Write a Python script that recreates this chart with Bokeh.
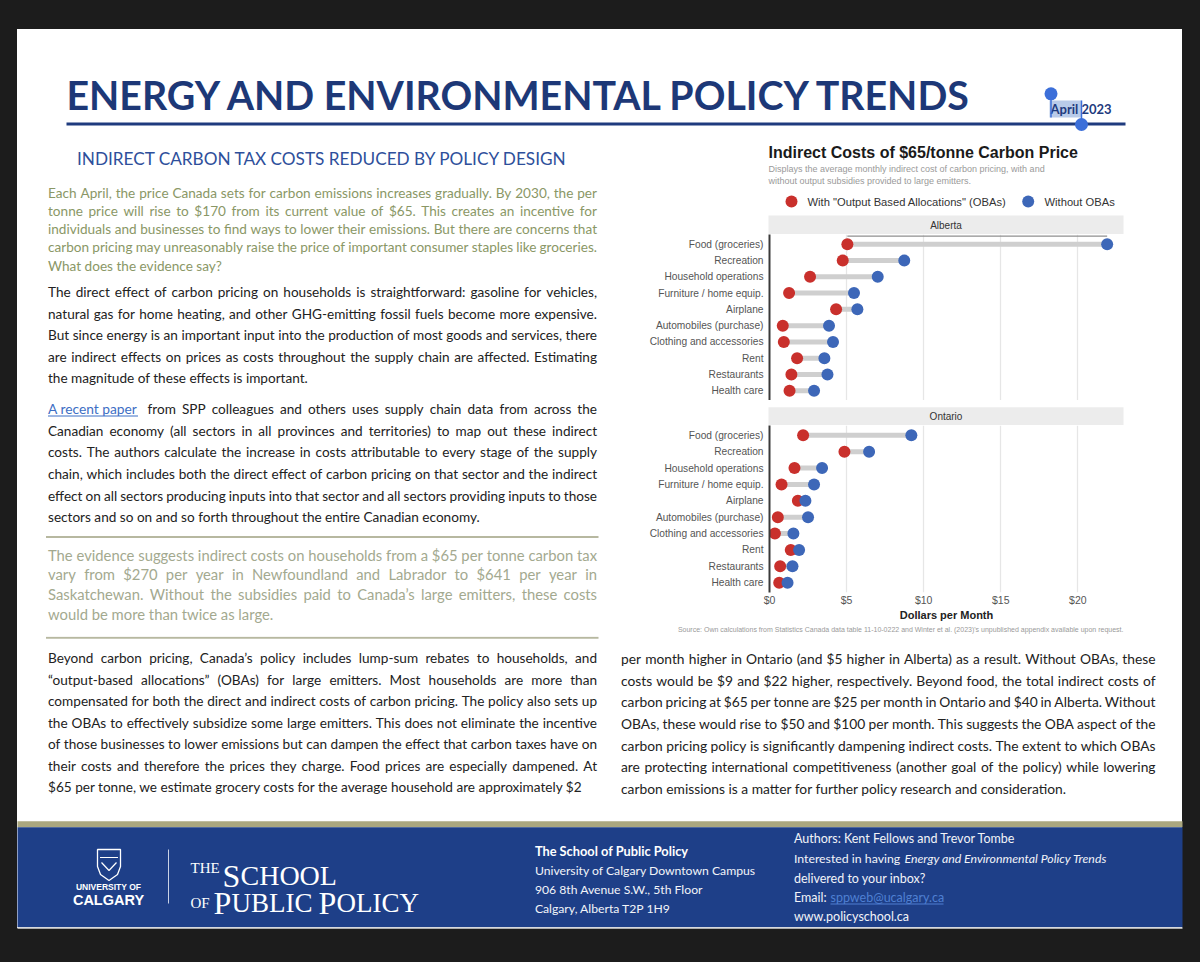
from bokeh.plotting import figure
from bokeh.models import Range1d, FactorRange, FixedTicker, ColumnDataSource, CustomJS
from bokeh.layouts import column, row
from bokeh.document import Document
from bokeh.embed import file_html
from bokeh.resources import INLINE
from bokeh.core.properties import value

# ---------------- data ----------------
categories = ["Food (groceries)", "Recreation", "Household operations",
              "Furniture / home equip.", "Airplane", "Automobiles (purchase)",
              "Clothing and accessories", "Rent", "Restaurants", "Health care"]
alberta_with_oba = [5.05, 4.75, 2.63, 1.27, 4.32, 0.86, 0.93, 1.79, 1.42, 1.30]
alberta_without_oba = [21.9, 8.74, 7.02, 5.48, 5.70, 3.86, 4.12, 3.56, 3.76, 2.89]
ontario_with_oba = [2.18, 4.86, 1.62, 0.78, 1.84, 0.54, 0.35, 1.38, 0.69, 0.63]
ontario_without_oba = [9.20, 6.46, 3.41, 2.89, 2.33, 2.50, 1.55, 1.92, 1.49, 1.17]
tick_values = [0, 5, 10, 15, 20]
tick_labels = ["$0", "$5", "$10", "$15", "$20"]
x_max = 22.96

BODY = "Lato"
CHART = "Liberation Sans"
DARK = "#1c1c1c"
RED = "#c9302c"
BLUE = "#3d67b8"

just_sources = []
just_cfgs = []


def noalign(p):
    try:
        p.frame_align = False
    except Exception:
        pass


def canvas(x0, x1, y0, y1):
    # transparent canvas: the page (white sheet on dark) is the layout's background
    p = figure(width=x1 - x0, height=y1 - y0, x_range=Range1d(x0, x1),
               y_range=Range1d(y1, y0), output_backend="svg",
               toolbar_location=None, tools="", min_border=0,
               x_axis_location=None, y_axis_location=None)
    p.grid.visible = False
    p.outline_line_color = None
    p.background_fill_color = None
    p.border_fill_color = None
    noalign(p)
    return p


def txt(p, x, y, s, size, color, font=BODY, style="normal", align="left",
        baseline="middle"):
    p.text(x=[x], y=[y], text=[s], text_font=value(font),
           text_font_size=value(f"{size}px"), text_color=color,
           text_font_style=value(style), text_align=value(align),
           text_baseline=value(baseline))


def block(p, lines, x, y0, dy, size, color, font=BODY, justify_to=None, n_just=0):
    n = len(lines)
    src = ColumnDataSource(dict(x=[x] * n, y=[y0 + i * dy for i in range(n)],
                                text=list(lines)))
    p.text(x="x", y="y", text="text", source=src,
           text_font=value(font), text_font_size=value(f"{size}px"),
           text_color=color, text_baseline=value("middle"),
           text_align=value("left"))
    if justify_to is not None:
        just_sources.append(src)
        just_cfgs.append(dict(font=f"{size}px {font}", x1=justify_to,
                              justify=[i < n_just for i in range(n)]))


def box(p, l, r, t, b, color):
    p.quad(left=[l], right=[r], top=[t], bottom=[b], fill_color=color,
           line_color=None)


# ---------------- top header ----------------
top = canvas(0, 1200, 0, 140)
txt(top, 66, 93.5, "ENERGY AND ENVIRONMENTAL POLICY TRENDS", 39.3, "#1d3877",
    style="bold")
top.line(x=[66, 1125], y=[123.5, 123.5], line_color="#1f3b7e", line_width=3)
box(top, 1049, 1081, 100, 117, "#b9cbe9")
txt(top, 1050, 108.5, "April 2023", 13, "#1f3b7e", style="bold")
top.line(x=[1050.5, 1050.5], y=[96, 117], line_color="#3c6fd9", line_width=1.5)
top.line(x=[1081, 1081], y=[100, 122], line_color="#3c6fd9", line_width=1.5)
top.scatter(x=[1050.5, 1081], y=[93.3, 124], size=13, fill_color="#3c6fd9",
            line_color=None)

# ---------------- left text column ----------------
left = canvas(0, 640, 140, 636)
txt(left, 322, 158.3, "INDIRECT CARBON TAX COSTS REDUCED BY POLICY DESIGN", 17.2,
    "#2e4f9b", align="center")

green_lines = [
    "Each April, the price Canada sets for carbon emissions increases gradually. By 2030, the per",
    "tonne price will rise to $170 from its current value of $65. This creates an incentive for",
    "individuals and businesses to find ways to lower their emissions. But there are concerns that",
    "carbon pricing may unreasonably raise the price of important consumer staples like groceries.",
    "What does the evidence say?",
]
block(left, green_lines, 47.5, 192.7, 18.08, 13.6, "#8a9766", justify_to=596.5, n_just=4)

black1 = [
    "The direct effect of carbon pricing on households is straightforward: gasoline for vehicles,",
    "natural gas for home heating, and other GHG-emitting fossil fuels become more expensive.",
    "But since energy is an important input into the production of most goods and services, there",
    "are indirect effects on prices as costs throughout the supply chain are affected. Estimating",
    "the magnitude of these effects is important.",
]
block(left, black1, 47.5, 291.7, 21.5, 13.6, "#222222", justify_to=596.5, n_just=4)

txt(left, 47.5, 408.3, "A recent paper", 13.8, "#3d6ec4")
left.line(x=[47.5, 137.5], y=[415.5, 415.5], line_color="#3d6ec4", line_width=1)
block(left, ["from SPP colleagues and others uses supply chain data from across the"],
      147, 408.3, 0, 13.6, "#222222", justify_to=596.5, n_just=1)
black2 = [
    "Canadian economy (all sectors in all provinces and territories) to map out these indirect",
    "costs. The authors calculate the increase in costs attributable to every stage of the supply",
    "chain, which includes both the direct effect of carbon pricing on that sector and the indirect",
    "effect on all sectors producing inputs into that sector and all sectors providing inputs to those",
    "sectors and so on and so forth throughout the entire Canadian economy.",
]
block(left, black2, 47.5, 430.0, 21.68, 13.6, "#222222", justify_to=596.5, n_just=4)

left.line(x=[45.5, 598], y=[536.5, 536.5], line_color="#b7b8a0", line_width=2)
quote = [
    "The evidence suggests indirect costs on households from a $65 per tonne carbon tax",
    "vary from $270 per year in Newfoundland and Labrador to $641 per year in",
    "Saskatchewan. Without the subsidies paid to Canada\u2019s large emitters, these costs",
    "would be more than twice as large.",
]
block(left, quote, 47.5, 554.0, 19.77, 14.8, "#a3a98f", justify_to=596.5, n_just=3)

# ---------------- chart column ----------------
CW0, CW1 = 640, 1182
head = canvas(CW0, CW1, 140, 234)
txt(head, 768, 151.5, "Indirect Costs of $65/tonne Carbon Price", 16, "#1a1a1a",
    font=CHART, style="bold")
txt(head, 768, 168.7, "Displays the average monthly indirect cost of carbon pricing, with and",
    9, "#9a9a9a", font=CHART)
txt(head, 768, 180.0, "without output subsidies provided to large emitters.", 9, "#9a9a9a",
    font=CHART)
head.scatter(x=[791], y=[201], size=12, fill_color=RED, line_color=None)
txt(head, 807, 201, "With \"Output Based Allocations\" (OBAs)", 11.2, "#333333", font=CHART)
head.scatter(x=[1027.7], y=[201], size=12, fill_color=BLUE, line_color=None)
txt(head, 1044, 201, "Without OBAs", 11.2, "#333333", font=CHART)
box(head, 768, 1123, 215, 240, "#ececec")
txt(head, 945.5, 224.8, "Alberta", 10, "#333333", font=CHART, align="center")

xr = Range1d(0, x_max)


def panel(height, with_vals, without_vals, show_x, extra=None):
    p = figure(width=CW1 - CW0, height=height, x_range=xr,
               y_range=FactorRange(factors=categories[::-1], range_padding=0.02),
               output_backend="svg", toolbar_location=None, tools="",
               min_border=0, min_border_left=129, min_border_right=59,
               min_border_top=0, min_border_bottom=32 if show_x else 0,
               x_axis_location="below" if show_x else None)
    noalign(p)
    p.outline_line_color = None
    p.background_fill_color = None
    p.border_fill_color = None
    p.ygrid.grid_line_color = None
    p.xgrid.ticker = FixedTicker(ticks=tick_values)
    p.xgrid.grid_line_color = "#e6e6e6"
    p.xgrid.grid_line_width = 1.3
    ya = p.yaxis[0]
    ya.axis_line_color = "#3a3a3a"
    ya.axis_line_width = 2
    ya.major_tick_line_color = None
    ya.major_tick_out = 0
    ya.major_tick_in = 0
    ya.major_label_standoff = 6
    ya.major_label_text_font = CHART
    ya.major_label_text_font_size = "10.2px"
    ya.major_label_text_color = "#555555"
    if show_x:
        xa = p.xaxis[0]
        xa.ticker = FixedTicker(ticks=tick_values)
        xa.major_label_overrides = {v: l for v, l in zip(tick_values, tick_labels)}
        xa.axis_line_color = None
        xa.major_tick_line_color = None
        xa.minor_tick_line_color = None
        xa.major_tick_out = 0
        xa.major_tick_in = 0
        xa.minor_tick_out = 0
        xa.minor_tick_in = 0
        xa.major_label_standoff = 1
        xa.major_label_text_font = CHART
        xa.major_label_text_font_size = "10.5px"
        xa.major_label_text_color = "#555555"
        xa.axis_label = "Dollars per Month"
        xa.axis_label_text_font = CHART
        xa.axis_label_text_font_style = "bold"
        xa.axis_label_text_font_size = "11px"
        xa.axis_label_text_color = "#222222"
        xa.axis_label_standoff = 0
    src = ColumnDataSource(dict(cat=categories, w=with_vals, wo=without_vals))
    if extra is not None:
        p.segment(x0="x0", y0="y", x1="x1", y1="y", source=extra,
                  line_color="#8f8f8f", line_width=1.3)
    p.segment(x0="w", y0="cat", x1="wo", y1="cat", source=src,
              line_color="#cfcfcf", line_width=5)
    p.scatter(x="w", y="cat", source=src, size=12, fill_color=RED, line_color=None)
    p.scatter(x="wo", y="cat", source=src, size=12, fill_color=BLUE, line_color=None)
    return p


ab_extra = ColumnDataSource(dict(x0=[alberta_with_oba[0]], x1=[alberta_without_oba[0]],
                                 y=[(categories[0], 0.5)]))
ab = panel(166, alberta_with_oba, alberta_without_oba, False, extra=ab_extra)

mid = canvas(CW0, CW1, 400, 425)
box(mid, 768, 1123, 406.7, 430, "#ececec")
txt(mid, 945.5, 416.2, "Ontario", 10, "#333333", font=CHART, align="center")

on = panel(199, ontario_with_oba, ontario_without_oba, True)

foot = canvas(CW0, CW1, 624, 636)
txt(foot, 1123, 628.5, "Source: Own calculations from Statistics Canada data table 11-10-0222 "
    "and Winter et al. (2023)'s unpublished appendix available upon request.",
    7, "#9a9a9a", font=CHART, align="right")

chart_col = column(head, ab, mid, on, foot, spacing=0)
right_edge = canvas(1182, 1200, 140, 636)

# ---------------- bottom ----------------
bottom = canvas(0, 1200, 636, 962)
box(bottom, 17, 1182, 820.7, 826.7, "#aaa77f")
box(bottom, 17, 1182, 826.7, 926.7, "#1e3f88")
box(bottom, 17, 1182, 926.7, 928.3, "#dddddd")
bottom.line(x=[45.5, 598], y=[637.2, 637.2], line_color="#b7b8a0", line_width=2)

bl = [
    "Beyond carbon pricing, Canada\u2019s policy includes lump-sum rebates to households, and",
    "\u201coutput-based allocations\u201d (OBAs) for large emitters. Most households are more than",
    "compensated for both the direct and indirect costs of carbon pricing. The policy also sets up",
    "the OBAs to effectively subsidize some large emitters. This does not eliminate the incentive",
    "of those businesses to lower emissions but can dampen the effect that carbon taxes have on",
    "their costs and therefore the prices they charge. Food prices are especially dampened. At",
    "$65 per tonne, we estimate grocery costs for the average household are approximately $2",
]
block(bottom, bl, 47.5, 657.7, 21.5, 13.6, "#222222", justify_to=596.5, n_just=6)
br = [
    "per month higher in Ontario (and $5 higher in Alberta) as a result. Without OBAs, these",
    "costs would be $9 and $22 higher, respectively. Beyond food, the total indirect costs of",
    "carbon pricing at $65 per tonne are $25 per month in Ontario and $40 in Alberta. Without",
    "OBAs, these would rise to $50 and $100 per month. This suggests the OBA aspect of the",
    "carbon pricing policy is significantly dampening indirect costs.  The extent to which OBAs",
    "are protecting international competitiveness (another goal of the policy) while lowering",
    "carbon emissions is a matter for further policy research and consideration.",
]
block(bottom, br, 620.5, 658.3, 21.57, 13.8, "#222222", justify_to=1155, n_just=6)

# footer logo
bottom.patch(x=[97, 120, 120, 117, 108.5, 100, 97],
             y=[849, 849, 866, 874, 880, 874, 866],
             fill_color=None, line_color="white", line_width=1.3)
bottom.line(x=[99.5, 117.5], y=[857, 857], line_color="white", line_width=1)
bottom.line(x=[101, 108.5, 116], y=[862, 870, 862], line_color="white", line_width=1.2)
txt(bottom, 108, 886, "UNIVERSITY OF", 8.5, "white", font=CHART, style="bold", align="center")
txt(bottom, 108, 899, "CALGARY", 14.5, "white", font=CHART, style="bold", align="center")
bottom.line(x=[168, 168], y=[849, 903], line_color="#c9d2e6", line_width=1)
SERIF = "Liberation Serif"
txt(bottom, 190, 867, "THE", 15, "white", font=SERIF, baseline="alphabetic")
txt(bottom, 222, 875, "S", 32, "white", font=SERIF, baseline="alphabetic")
txt(bottom, 240, 875, "CHOOL", 28, "white", font=SERIF, baseline="alphabetic")
txt(bottom, 190, 902, "OF", 15, "white", font=SERIF, baseline="alphabetic")
txt(bottom, 213, 902, "P", 32, "white", font=SERIF, baseline="alphabetic")
txt(bottom, 231, 902, "UBLIC", 27, "white", font=SERIF, baseline="alphabetic")
txt(bottom, 318, 902, "P", 32, "white", font=SERIF, baseline="alphabetic")
txt(bottom, 336, 902, "OLICY", 27, "white", font=SERIF, baseline="alphabetic")

# footer address
txt(bottom, 534.4, 850, "The School of Public Policy", 12.8, "white", style="bold")
block(bottom, ["University of Calgary Downtown Campus", "906 8th Avenue S.W., 5th Floor",
               "Calgary, Alberta  T2P 1H9"], 534.4, 870, 19, 12.2, "#f2f4f8")

# footer authors
txt(bottom, 793.4, 838.3, "Authors: Kent Fellows and Trevor Tombe", 12.5, "#f2f4f8")
txt(bottom, 793.4, 857.7, "Interested in having", 12.3, "#f2f4f8")
txt(bottom, 904, 857.7, "Energy and Environmental Policy Trends", 12.3, "#f2f4f8",
    style="italic")
txt(bottom, 793.4, 877.7, "delivered to your inbox?", 12.5, "#f2f4f8")
txt(bottom, 793.4, 896.7, "Email:", 12.5, "#f2f4f8")
txt(bottom, 830, 896.7, "sppweb@ucalgary.ca", 12.5, "#4f7fd2")
bottom.line(x=[830, 943], y=[903.5, 903.5], line_color="#4f7fd2", line_width=1)
txt(bottom, 793.4, 916, "www.policyschool.ca", 12.5, "#f2f4f8")

middle = row(left, chart_col, right_edge, spacing=0)
# the sheet: white page (x 17..1182, y 29..928) on a dark surround
bg_css = ("linear-gradient(to bottom, #1c1c1c 0px, #1c1c1c 29px, rgba(0,0,0,0) 29px, "
          "rgba(0,0,0,0) 928px, #1c1c1c 928px, #1c1c1c 100%), "
          "linear-gradient(to right, #1c1c1c 0px, #1c1c1c 17px, #ffffff 17px, "
          "#ffffff 1182px, #1c1c1c 1182px, #1c1c1c 100%)")
page = column(top, middle, bottom, spacing=0, styles={"background": bg_css})

# justify paragraph lines (as in the original document) using measured word widths
justify_js = CustomJS(args=dict(sources=just_sources, cfgs=just_cfgs), code="""
try {
  const ctx = document.createElement("canvas").getContext("2d");
  for (let k = 0; k < sources.length; k++) {
    const src = sources[k];
    const cfg = cfgs[k];
    ctx.font = cfg.font;
    const d = src.data;
    const xs = [], ys = [], ts = [];
    for (let i = 0; i < d.text.length; i++) {
      const line = d.text[i];
      const x0 = d.x[i], y = d.y[i];
      const words = line.split(/ +/).filter(w => w.length > 0);
      if (!cfg.justify[i] || words.length < 2) {
        xs.push(x0); ys.push(y); ts.push(line);
        continue;
      }
      const widths = words.map(w => ctx.measureText(w).width);
      let total = 0;
      for (const w of widths) total += w;
      const gap = (cfg.x1 - x0 - total) / (words.length - 1);
      if (!(gap > 1.0)) {
        xs.push(x0); ys.push(y); ts.push(line);
        continue;
      }
      let x = x0;
      for (let j = 0; j < words.length; j++) {
        xs.push(x); ys.push(y); ts.push(words[j]);
        x += widths[j] + gap;
      }
    }
    src.data = {x: xs, y: ys, text: ts};
  }
} catch (e) {
  console.log(e);
}
""")

doc = Document()
doc.add_root(page)
doc.js_on_event("document_ready", justify_js)

open("out.html", "w").write(file_html(doc, INLINE))
